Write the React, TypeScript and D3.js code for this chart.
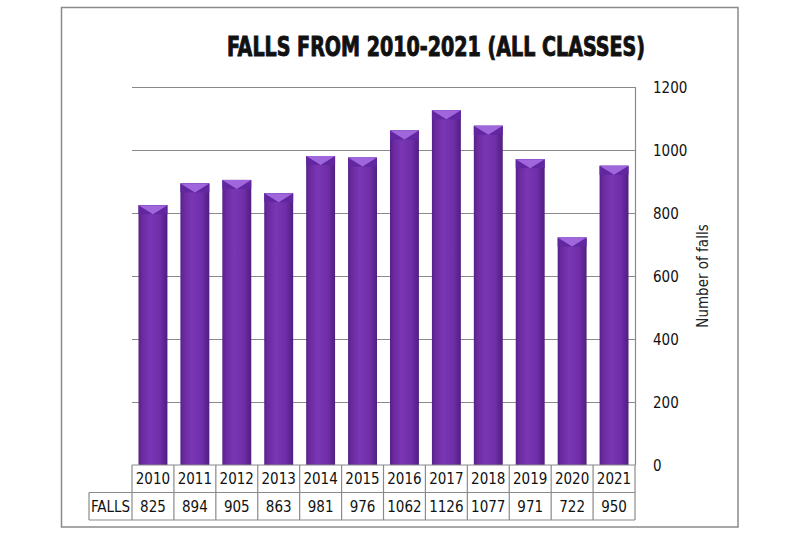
import { useEffect, useRef } from 'react';
import * as d3 from 'd3';

// chart data
const years = ['2010', '2011', '2012', '2013', '2014', '2015', '2016', '2017', '2018', '2019', '2020', '2021'];
const falls = [825, 894, 905, 863, 981, 976, 1062, 1126, 1077, 971, 722, 950];
const yTicks = [0, 200, 400, 600, 800, 1000, 1200];
const rowLabel = 'FALLS';
const title = 'FALLS FROM 2010-2021 (ALL CLASSES)';
const yTitle = 'Number of falls';

const W = 800;
const H = 533;

export default function App() {
  const svgRef = useRef<SVGSVGElement>(null);

  useEffect(() => {
    if (!svgRef.current) return;
    const svg = d3.select(svgRef.current);
    svg.selectAll('*').remove();

    const plot = { left: 132, right: 635, top: 87, bottom: 465 };
    const rowH = 27.5;
    const labelLeft = 89;
    const tableFont = "'Liberation Sans Narrow', 'DejaVu Sans Condensed', sans-serif";

    const x = d3.scaleBand<string>()
      .domain(years)
      .range([plot.left, plot.right])
      .paddingInner(0.31)
      .paddingOuter(0.155);

    const y = d3.scaleLinear()
      .domain([0, 1200])
      .range([plot.bottom, plot.top]);

    // background + outer frame
    svg.append('rect').attr('width', W).attr('height', H).attr('fill', '#fff');
    svg.append('rect')
      .attr('x', 61.5).attr('y', 7.5)
      .attr('width', 738 - 61.5).attr('height', 527 - 7.5)
      .attr('fill', 'none')
      .attr('stroke', '#8a8a8a')
      .attr('stroke-width', 1.5);

    // gradients
    const defs = svg.append('defs');
    const body = defs.append('linearGradient').attr('id', 'barBody')
      .attr('x1', '0%').attr('x2', '100%').attr('y1', '0%').attr('y2', '0%');
    [
      ['0%', '#55208a'],
      ['12%', '#6a2a9e'],
      ['40%', '#7a36b4'],
      ['75%', '#6f2ea8'],
      ['100%', '#4f1d80'],
    ].forEach(([o, c]) => body.append('stop').attr('offset', o).attr('stop-color', c));

    // gridlines
    svg.append('g')
      .selectAll('line')
      .data(yTicks.filter(t => t > 0))
      .join('line')
      .attr('x1', plot.left).attr('x2', plot.right)
      .attr('y1', d => Math.round(y(d)) + 0.5).attr('y2', d => Math.round(y(d)) + 0.5)
      .attr('stroke', '#8a8a8a')
      .attr('stroke-width', 1.2);

    // right border of plot area
    svg.append('line')
      .attr('x1', plot.right + 0.5).attr('x2', plot.right + 0.5)
      .attr('y1', plot.top).attr('y2', plot.bottom)
      .attr('stroke', '#8a8a8a')
      .attr('stroke-width', 1.2);

    // bars
    const capH = 9;
    const bars = svg.append('g')
      .selectAll('g')
      .data(years.map((yr, i) => ({ yr, v: falls[i] })))
      .join('g');

    bars.append('rect')
      .attr('x', d => x(d.yr)!)
      .attr('y', d => y(d.v))
      .attr('width', x.bandwidth())
      .attr('height', d => plot.bottom - y(d.v))
      .attr('fill', 'url(#barBody)');

    // bevelled top: side triangles darker, centre triangle lighter
    bars.append('polygon')
      .attr('points', d => {
        const x0 = x(d.yr)!, x1 = x0 + x.bandwidth(), t = y(d.v);
        return `${x0},${t} ${x1},${t} ${x1},${t + capH} ${x0},${t + capH}`;
      })
      .attr('fill', '#6226a0');
    bars.append('polygon')
      .attr('points', d => {
        const x0 = x(d.yr)!, x1 = x0 + x.bandwidth(), t = y(d.v);
        const mx = (x0 + x1) / 2;
        return `${x0},${t} ${x1},${t} ${mx},${t + capH}`;
      })
      .attr('fill', '#a066dc');

    // right-hand y axis labels
    svg.append('g')
      .selectAll('text')
      .data(yTicks)
      .join('text')
      .attr('x', 653)
      .attr('y', d => y(d) + 5.5)
      .attr('font-family', tableFont)
      .attr('font-size', 15)
      .attr('fill', '#111')
      .text(d => d);

    svg.append('text')
      .attr('transform', `translate(708, ${(plot.top + plot.bottom) / 2}) rotate(-90)`)
      .attr('text-anchor', 'middle')
      .attr('font-family', tableFont)
      .attr('font-size', 15)
      .attr('fill', '#222')
      .text(yTitle);

    // title
    svg.append('text')
      .attr('x', 227)
      .attr('y', 56)
      .attr('textLength', 418)
      .attr('lengthAdjust', 'spacingAndGlyphs')
      .attr('font-family', "'DejaVu Sans Condensed', 'DejaVu Sans', sans-serif")
      .attr('font-weight', 'bold')
      .attr('font-size', 26)
      .attr('fill', '#111')
      .attr('stroke', '#111')
      .attr('stroke-width', 0.9)
      .text(title);

    // data table
    const table = svg.append('g')
      .attr('font-family', tableFont)
      .attr('font-size', 15)
      .attr('fill', '#111');
    const step = x.step();
    const colX = (i: number) => plot.left + i * step;
    const r1 = plot.bottom;
    const r2 = r1 + rowH;
    const r3 = r2 + rowH;

    const border = table.append('g')
      .attr('stroke', '#8a8a8a')
      .attr('stroke-width', 1.2)
      .attr('fill', 'none');
    border.append('line').attr('x1', plot.left).attr('x2', plot.right).attr('y1', r1).attr('y2', r1);
    border.append('line').attr('x1', labelLeft).attr('x2', plot.right).attr('y1', r2).attr('y2', r2);
    border.append('line').attr('x1', labelLeft).attr('x2', plot.right).attr('y1', r3).attr('y2', r3);
    border.append('line').attr('x1', labelLeft).attr('x2', labelLeft).attr('y1', r2).attr('y2', r3);
    border.selectAll('line.col')
      .data(d3.range(years.length + 1))
      .join('line')
      .attr('class', 'col')
      .attr('x1', i => colX(i)).attr('x2', i => colX(i))
      .attr('y1', r1).attr('y2', r3);

    table.selectAll('text.yr')
      .data(years)
      .join('text')
      .attr('class', 'yr')
      .attr('x', d => x(d)! + x.bandwidth() / 2)
      .attr('y', r1 + rowH / 2 + 5.5)
      .attr('text-anchor', 'middle')
      .text(d => d);

    table.selectAll('text.val')
      .data(years.map((yr, i) => ({ yr, v: falls[i] })))
      .join('text')
      .attr('class', 'val')
      .attr('x', d => x(d.yr)! + x.bandwidth() / 2)
      .attr('y', r2 + rowH / 2 + 5.5)
      .attr('text-anchor', 'middle')
      .text(d => d.v);

    table.append('text')
      .attr('x', (labelLeft + plot.left) / 2)
      .attr('y', r2 + rowH / 2 + 5.5)
      .attr('text-anchor', 'middle')
      .text(rowLabel);
  }, []);

  return (
    <svg
      ref={svgRef}
      width={W}
      height={H}
      style={{ position: 'absolute', left: 0, top: 0 }}
    />
  );
}
